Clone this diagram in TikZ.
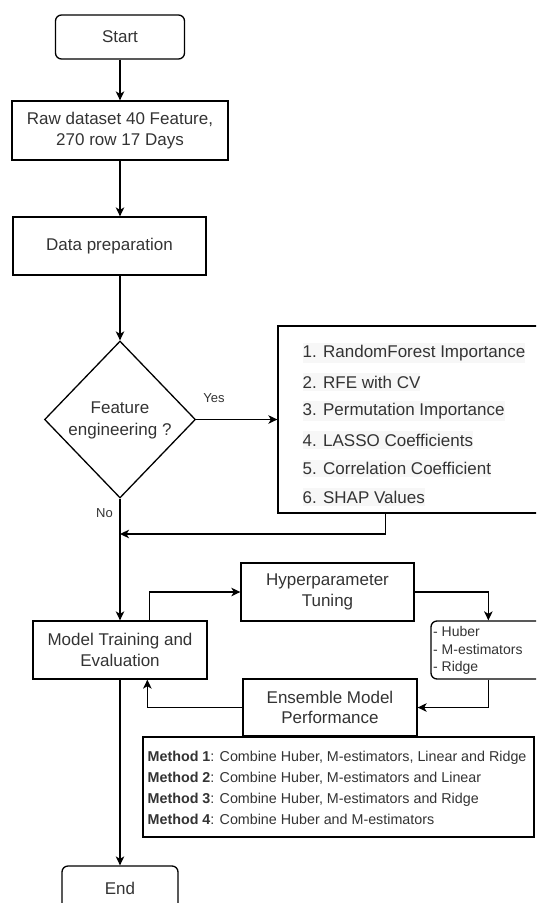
\documentclass[tikz,border=0pt]{standalone}
\usepackage{fontspec}
\setmainfont{Liberation Sans}
\usetikzlibrary{arrows.meta,shapes.geometric,calc}
\definecolor{textc}{HTML}{333333}
\definecolor{hl}{HTML}{F7F7F7}
\begin{document}
\begin{tikzpicture}[x=1pt,y=-1pt,
  line width=1.3pt,
  arr/.style={-{Stealth[length=9pt,width=8.5pt,inset=2.5pt]}},
  box/.style={draw, rectangle, inner sep=0pt, text=textc, align=center,
    font=\fontsize{17}{20.5}\selectfont},
  rbox/.style={box, rounded corners=6pt},
  item/.style={anchor=west, fill=hl, inner xsep=0pt, inner ysep=2.5pt, text=textc,
    font=\fontsize{17}{20.5}\selectfont},
  lbl/.style={text=textc, font=\fontsize{13}{15}\selectfont, inner sep=0pt}
]
\useasboundingbox (0,0) rectangle (536,903);
\begin{scope}
\clip (0,0) rectangle (536,903);

% nodes
\node[rbox, minimum width=129pt, minimum height=44pt] (start) at (120,37) {Start};
\node[box, minimum width=216pt, minimum height=59pt] (raw) at (120,130.5) {Raw dataset 40 Feature,\\270 row 17 Days};
\node[box, minimum width=193pt, minimum height=58pt] (prep) at (109.5,246) {Data preparation};
\node[draw, diamond, minimum width=151pt, minimum height=157pt, inner sep=0pt] (dec) at (120,419.5) {};
\node[text=textc, align=center, font=\fontsize{17}{21.5}\selectfont] (dectext) at ([yshift=-1pt]dec.center) {Feature\\engineering ?};

\node[draw, rectangle, minimum width=290pt, minimum height=187pt, inner sep=0pt] (feat) at (423,419.5) {};
\node[item] (f1) at (302,353) {1. RandomForest Importance};
\node[item] (f2) at (302,382) {2. RFE with CV};
\node[item] (f3) at (302,411) {3. Permutation Importance};
\node[item] (f4) at (302,440) {4. LASSO Coefficients};
\node[item] (f5) at (302,468.5) {5. Correlation Coefficient};
\node[item] (f6) at (302,497) {6. SHAP Values};

\node[box, minimum width=174pt, minimum height=58pt] (model) at (120,650) {Model Training and\\Evaluation};
\node[box, minimum width=173pt, minimum height=58pt] (hyper) at (327.5,592) {Hyperparameter\\Tuning};
\node[draw, rectangle, rounded corners=6pt, minimum width=140pt, minimum height=58pt, inner sep=0pt] (list) at (501,650) {};
\node[anchor=west, text=textc, align=left, inner sep=0pt,
  font=\fontsize{14}{17.3}\selectfont] (listtext) at (432.5,650.5) {- Huber\\- M-estimators\\- Ridge};
\node[box, minimum width=174pt, minimum height=57pt] (ens) at (330,707.5) {Ensemble Model\\Performance};
\node[draw, rectangle, fill=white, minimum width=391pt, minimum height=100pt, inner sep=0pt] (meth) at (338.5,787) {};
\node[anchor=west, text=textc, align=left, inner sep=0pt,
  font=\fontsize{14.3}{20.8}\selectfont] (methtext) at (147,788) {\textbf{Method 1}: Combine Huber, M-estimators, Linear and Ridge\\\textbf{Method 2}: Combine Huber, M-estimators and Linear\\\textbf{Method 3}: Combine Huber, M-estimators and Ridge\\\textbf{Method 4}: Combine Huber and M-estimators};
\node[rbox, minimum width=116pt, minimum height=44pt] (endn) at (120,888) {End};

% labels
\node[lbl] (yes) at (214,398) {Yes};
\node[lbl] (no) at (104.5,513.5) {No};

% connectors
\coordinate (join) at (120,534);
\draw[arr] (start.south) -- (start.south |- raw.north);
\draw[arr] (raw.south) -- (raw.south |- prep.north);
\draw[arr] (dec.north |- prep.south) -- (dec.north);
\draw[arr] (dec.east) -- (feat.west);
\draw[arr] ($(feat.south west)+(108,0)$) |- (join);
\draw[arr] (dec.south) -- (model.north);
\draw[arr] ($(model.north west)+(117,0)$) |- (hyper.west);
\draw[arr] (hyper.east) -| ($(list.north west)+(58,0)$);
\draw[arr] ($(list.south west)+(58,0)$) |- (ens.east);
\draw[arr] (ens.west) -| ($(model.south west)+(115,0)$);
\draw[arr] (model.south) -- (endn.north);
\end{scope}
\end{tikzpicture}
\end{document}
